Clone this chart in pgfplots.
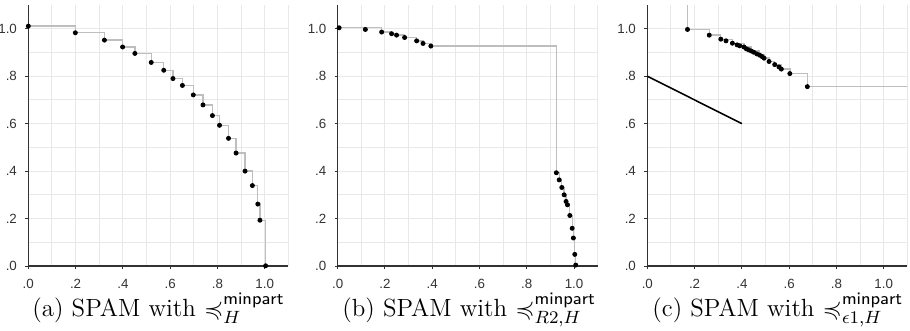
\documentclass[border=0pt]{standalone}
\usepackage{amssymb}
\usepackage{fontspec}
\usepackage{pgfplots}
\pgfplotsset{compat=1.18}
\newfontfamily\tickfont{Liberation Sans}
\definecolor{gridc}{RGB}{232,232,232}
\definecolor{stepc}{RGB}{190,190,190}
\definecolor{axc}{RGB}{50,50,50}
\pgfplotsset{
  panel/.style={
    scale only axis, width=117pt, height=117.45pt,
    anchor=south west,
    xmin=0, xmax=1.1, ymin=0, ymax=1.1,
    axis x line=bottom, axis y line=left,
    axis line style={-, axc, line width=0.5pt},
    xtick={0,0.2,0.4,0.6,0.8,1.0},
    ytick={0,0.2,0.4,0.6,0.8,1.0},
    xticklabels={.0,.2,.4,.6,.8,1.0},
    yticklabels={.0,.2,.4,.6,.8,1.0},
    minor xtick={0.1,0.3,0.5,0.7,0.9,1.1},
    minor ytick={0.1,0.3,0.5,0.7,0.9},
    grid=both,
    major grid style={gridc, line width=0.45pt},
    minor grid style={gridc, line width=0.45pt},
    tick align=outside,
    major tick length=1.4pt, minor tick length=0pt,
    tick style={axc, line width=0.45pt},
    tick label style={font=\tickfont\fontsize{6}{7}\selectfont, text=black!80},
    xticklabel style={yshift=-1.0pt},
    yticklabel style={xshift=-0.2pt},
  },
  step/.style={const plot, stepc, line width=0.6pt, mark=none},
  dots/.style={only marks, mark=*, mark size=0.9pt, black},
}
\begin{document}
\begin{tikzpicture}
\path[use as bounding box] (0,0) rectangle (409.5pt,-148.5pt);
% (a)
\begin{axis}[panel, at={(12.74pt,-119.7pt)}]
\addplot[step] coordinates {(0,1.011) (0.199,0.983) (0.322,0.952) (0.399,0.923) (0.451,0.896) (0.520,0.858) (0.573,0.825) (0.612,0.790) (0.652,0.761) (0.698,0.721) (0.739,0.679) (0.779,0.634) (0.809,0.593) (0.847,0.538) (0.879,0.476) (0.917,0.400) (0.948,0.339) (0.971,0.261) (0.980,0.193) (1.004,0.001)};
\addplot[dots] coordinates {(0,1.011) (0.199,0.983) (0.322,0.952) (0.399,0.923) (0.451,0.896) (0.520,0.858) (0.573,0.825) (0.612,0.790) (0.652,0.761) (0.698,0.721) (0.739,0.679) (0.779,0.634) (0.809,0.593) (0.847,0.538) (0.879,0.476) (0.917,0.400) (0.948,0.339) (0.971,0.261) (0.980,0.193) (1.004,0.001)};
\end{axis}
% (b)
\begin{axis}[panel, at={(151.97pt,-119.7pt)}]
\addplot[step] coordinates {(0.006,1.004) (0.186,0.986) (0.228,0.979) (0.249,0.973) (0.283,0.963) (0.334,0.949) (0.361,0.938) (0.394,0.927) (0.925,0.393) (0.937,0.363) (0.948,0.331) (0.958,0.300) (0.966,0.272) (0.972,0.258) (0.982,0.213) (0.992,0.159) (0.997,0.118) (1.003,0.049) (1.007,0.004)};
\addplot[dots] coordinates {(0.006,1.004) (0.117,0.997) (0.186,0.986) (0.228,0.979) (0.249,0.973) (0.283,0.963) (0.334,0.949) (0.361,0.938) (0.394,0.927) (0.925,0.393) (0.937,0.363) (0.948,0.331) (0.958,0.300) (0.966,0.272) (0.972,0.258) (0.982,0.213) (0.992,0.159) (0.997,0.118) (1.003,0.049) (1.007,0.004)};
\end{axis}
% (c)
\begin{axis}[panel, at={(291.29pt,-119.7pt)}]
\addplot[step] coordinates {(0.1,1.3) (0.170,0.997) (0.262,0.973) (0.311,0.956) (0.360,0.939) (0.409,0.923) (0.440,0.906) (0.475,0.889) (0.494,0.876) (0.515,0.862) (0.539,0.849) (0.567,0.830) (0.603,0.811) (0.677,0.756) (1.2,0.756)};
\addplot[dots] coordinates {(0.170,0.997) (0.262,0.973) (0.311,0.956) (0.333,0.949) (0.360,0.939) (0.380,0.932) (0.391,0.928) (0.409,0.923) (0.419,0.915) (0.429,0.911) (0.440,0.906) (0.450,0.901) (0.463,0.894) (0.475,0.889) (0.485,0.883) (0.494,0.876) (0.515,0.862) (0.539,0.849) (0.557,0.839) (0.567,0.830) (0.603,0.811) (0.677,0.756)};
\addplot[black, line width=0.7pt, mark=none] coordinates {(0,0.8) (0.4,0.6)};
\end{axis}
\begin{scope}[every node/.style={anchor=base west, inner sep=0pt, font=\fontsize{11.2}{13}\selectfont}]
\node at (14.4pt,-142.2pt) {(a) SPAM with $\preccurlyeq^{\mathsf{minpart}}_{H}$};
\node at (153.9pt,-142.2pt) {(b) SPAM with $\preccurlyeq^{\mathsf{minpart}}_{R2,H}$};
\node at (293.4pt,-142.2pt) {(c) SPAM with $\preccurlyeq^{\mathsf{minpart}}_{\epsilon1,H}$};
\end{scope}
\end{tikzpicture}
\end{document}
